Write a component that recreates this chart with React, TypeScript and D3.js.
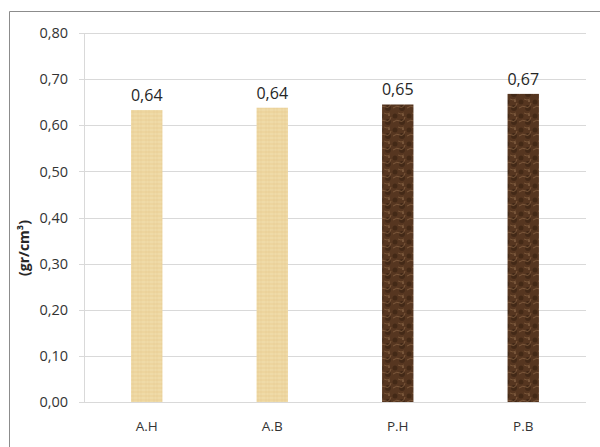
import React from "react";
import * as d3 from "d3";

const categories = ["A.H", "A.B", "P.H", "P.B"];
const values = [0.633, 0.638, 0.645, 0.668];
const valueLabels = ["0,64", "0,64", "0,65", "0,67"];
const fills = ["url(#tan)", "url(#tan)", "url(#brown)", "url(#brown)"];
const yTicks = [0, 0.1, 0.2, 0.3, 0.4, 0.5, 0.6, 0.7, 0.8];
const yTitle = "(gr/cm³)";

export default function App() {
  const W = 600, H = 447;
  const left = 84, right = 586, top = 33, bottom = 402;
  const x = d3.scaleBand<string>().domain(categories).range([left, right]).paddingInner(0.75).paddingOuter(0.375);
  const y = d3.scaleLinear().domain([0, 0.8]).range([bottom, top]);
  const fmt = (v: number) => v.toFixed(2).replace(".", ",");
  const font = "'Open Sans', 'Noto Sans', 'Liberation Sans', sans-serif";
  return (
    <svg width={W} height={H} style={{ position: "absolute", left: 0, top: 0, display: "block" }} fontFamily={font}>
      <defs>
        <pattern id="tan" width="8" height="8" patternUnits="userSpaceOnUse">
          <rect width="8" height="8" fill="#EDD59E" />
          <path d="M0 2 H8 M0 6 H8" stroke="#F3E2B6" strokeWidth="0.8" />
          <path d="M2 0 V8 M5 0 V8" stroke="#E3C88A" strokeWidth="0.5" opacity="0.7" />
        </pattern>
        <pattern id="brown" width="14" height="14" patternUnits="userSpaceOnUse">
          <rect width="14" height="14" fill="#563620" />
          <circle cx="3" cy="4" r="2.5" fill="#3E2514" opacity="0.8" />
          <circle cx="10" cy="10" r="3" fill="#3A2312" opacity="0.7" />
          <path d="M1 10 Q5 7 8 9 T13 5" stroke="#8A6444" strokeWidth="0.9" fill="none" opacity="0.8" />
          <path d="M6 1 Q9 3 12 1" stroke="#9A7250" strokeWidth="0.7" fill="none" opacity="0.7" />
          <circle cx="11" cy="3" r="1" fill="#A07A58" opacity="0.6" />
        </pattern>
      </defs>
      <rect x={0} y={0} width={W} height={H} fill="#fff" />
      <path d={`M9.5 ${H} V11.5 H${W}`} fill="none" stroke="#8c8c8c" strokeWidth={1} />
      {yTicks.map((t) => (
        <g key={t}>
          <line x1={left - 5} x2={right} y1={Math.round(y(t)) + 0.5} y2={Math.round(y(t)) + 0.5} stroke="#d9d9d9" strokeWidth={1} />
          <text x={68} y={y(t)} dy="0.36em" textAnchor="end" fontSize={14.5} fill="#333">{fmt(t)}</text>
        </g>
      ))}
      <line x1={left + 0.5} x2={left + 0.5} y1={top} y2={bottom} stroke="#d9d9d9" />
      {categories.map((c, i) => (
        <g key={c}>
          <rect x={x(c)} y={y(values[i])} width={x.bandwidth()} height={bottom - y(values[i])} fill={fills[i]} />
          <text x={(x(c) as number) + x.bandwidth() / 2} y={y(values[i]) - 9} textAnchor="middle" fontSize={16} fill="#262626">{valueLabels[i]}</text>
          <text x={(x(c) as number) + x.bandwidth() / 2} y={426} dy="0.36em" textAnchor="middle" fontSize={13.5} fill="#333">{c}</text>
        </g>
      ))}
      <text transform={`translate(29,248) rotate(-90)`} textAnchor="middle" fontSize={14} fontWeight="bold" fill="#262626">{yTitle}</text>
    </svg>
  );
}
